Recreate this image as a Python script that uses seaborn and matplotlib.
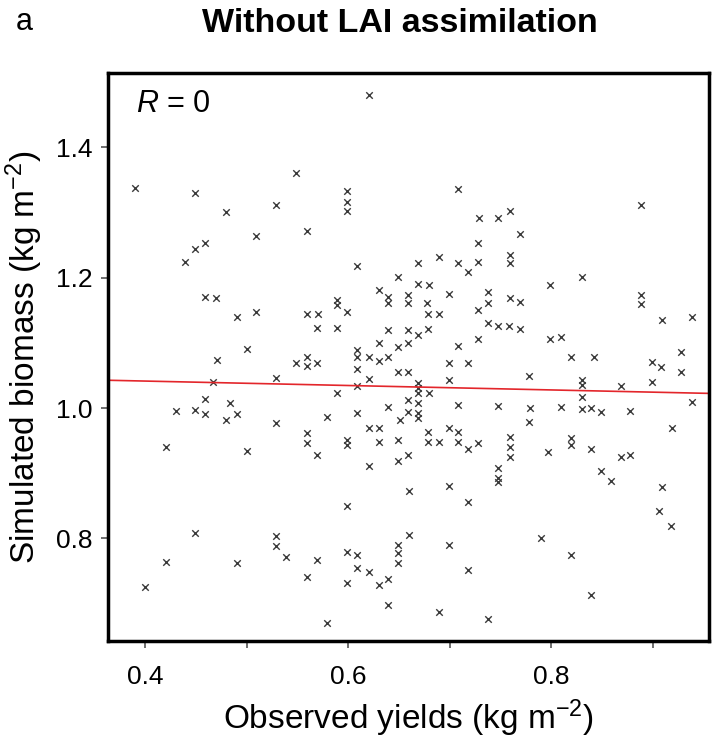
import matplotlib
matplotlib.use("Agg")
import matplotlib.pyplot as plt
import seaborn as sns
import pandas as pd

# observed yield vs simulated biomass (kg m-2)
obs_yield = [
    0.390, 0.449, 0.480, 0.529, 0.549, 0.559, 0.509, 0.459, 0.449, 0.439,
    0.620, 0.599, 0.599, 0.599, 0.708, 0.729, 0.748, 0.728, 0.689,
    0.759, 0.769, 0.759, 0.759, 0.889,
    0.459, 0.470, 0.490, 0.509, 0.559, 0.500, 0.471, 0.549, 0.559, 0.559,
    0.529, 0.467, 0.459, 0.484, 0.430, 0.449, 0.459, 0.480, 0.490, 0.529,
    0.559, 0.559, 0.420, 0.500,
    0.609, 0.669, 0.708, 0.728, 0.718, 0.649, 0.630, 0.669, 0.680, 0.699,
    0.738, 0.738, 0.589, 0.589, 0.599, 0.639, 0.639, 0.659, 0.659, 0.678,
    0.679, 0.689, 0.570, 0.728, 0.738, 0.748, 0.758, 0.569, 0.589, 0.639,
    0.659, 0.669, 0.679, 0.728, 0.659, 0.630, 0.649, 0.708, 0.609, 0.609,
    0.620, 0.630, 0.639, 0.569, 0.609, 0.649, 0.659, 0.699, 0.718, 0.699,
    0.620, 0.609, 0.589, 0.669, 0.669, 0.669, 0.680, 0.669, 0.659, 0.659,
    0.669, 0.669, 0.639, 0.708, 0.748, 0.609, 0.579, 0.651, 0.620, 0.630,
    0.699, 0.708, 0.679, 0.599, 0.599, 0.630, 0.649, 0.679, 0.689, 0.708,
    0.728, 0.718, 0.569, 0.659,
    0.830, 0.799, 0.759, 0.769, 0.889, 0.889, 0.909, 0.939, 0.769, 0.799,
    0.810, 0.820, 0.842, 0.899, 0.908, 0.928, 0.928, 0.778, 0.830, 0.830,
    0.869, 0.899, 0.830, 0.939, 0.779, 0.810, 0.830, 0.839, 0.849, 0.878,
    0.778, 0.919, 0.759, 0.759, 0.759, 0.820, 0.820, 0.839, 0.797, 0.869,
    0.878,
    0.449, 0.420, 0.400, 0.490, 0.529, 0.529, 0.539, 0.559,
    0.620, 0.649, 0.748, 0.748, 0.748, 0.699, 0.660, 0.718, 0.599, 0.660,
    0.649, 0.649, 0.649, 0.699, 0.599, 0.609, 0.609, 0.620, 0.569, 0.599,
    0.630, 0.639, 0.718, 0.639, 0.689, 0.738, 0.579,
    0.849, 0.859, 0.909, 0.906, 0.918, 0.790, 0.820, 0.839,
]
sim_biomass = [
    1.338, 1.330, 1.301, 1.312, 1.361, 1.272, 1.264, 1.253, 1.244, 1.224,
    1.480, 1.333, 1.316, 1.302, 1.336, 1.292, 1.292, 1.253, 1.232,
    1.302, 1.267, 1.235, 1.222, 1.312,
    1.170, 1.169, 1.140, 1.147, 1.144, 1.091, 1.074, 1.069, 1.078, 1.064,
    1.046, 1.040, 1.014, 1.008, 0.995, 0.997, 0.991, 0.982, 0.991, 0.977,
    0.962, 0.946, 0.940, 0.934,
    1.218, 1.223, 1.223, 1.224, 1.209, 1.201, 1.181, 1.190, 1.189, 1.175,
    1.178, 1.161, 1.166, 1.158, 1.147, 1.170, 1.161, 1.173, 1.161, 1.161,
    1.144, 1.144, 1.144, 1.150, 1.130, 1.126, 1.126, 1.123, 1.123, 1.120,
    1.120, 1.112, 1.121, 1.106, 1.100, 1.100, 1.094, 1.095, 1.089, 1.078,
    1.078, 1.072, 1.078, 1.069, 1.060, 1.055, 1.055, 1.069, 1.069, 1.043,
    1.045, 1.034, 1.023, 1.038, 1.031, 1.023, 1.023, 1.008, 1.012, 0.994,
    0.992, 0.985, 1.002, 1.005, 1.003, 0.992, 0.986, 0.982, 0.969, 0.969,
    0.969, 0.963, 0.963, 0.951, 0.943, 0.948, 0.951, 0.948, 0.948, 0.948,
    0.946, 0.937, 0.928, 0.928,
    1.201, 1.189, 1.169, 1.163, 1.173, 1.160, 1.135, 1.140, 1.121, 1.106,
    1.109, 1.078, 1.078, 1.071, 1.063, 1.086, 1.055, 1.049, 1.043, 1.035,
    1.034, 1.040, 1.017, 1.009, 1.000, 1.002, 0.998, 1.000, 0.994, 0.995,
    0.979, 0.969, 0.955, 0.940, 0.925, 0.954, 0.943, 0.937, 0.932, 0.925,
    0.928,
    0.808, 0.764, 0.725, 0.762, 0.804, 0.788, 0.771, 0.741,
    0.911, 0.919, 0.908, 0.893, 0.886, 0.880, 0.873, 0.856, 0.850, 0.805,
    0.790, 0.777, 0.762, 0.790, 0.779, 0.774, 0.754, 0.748, 0.767, 0.731,
    0.728, 0.738, 0.751, 0.698, 0.687, 0.676, 0.670,
    0.903, 0.888, 0.879, 0.842, 0.819, 0.800, 0.774, 0.713,
]

# fitted line as drawn in the reference
fit_intercept = 1.055
fit_slope = -0.034
r_value = "0"

x_ticks = [0.4, 0.5, 0.6, 0.7, 0.8, 0.9]
x_ticklabels = ["0.4", "", "0.6", "", "0.8", ""]
y_ticks = [0.8, 1.0, 1.2, 1.4]
y_ticklabels = ["0.8", "1.0", "1.2", "1.4"]

df = pd.DataFrame({"obs": obs_yield, "sim": sim_biomass})

sns.set_style("ticks")
plt.rcParams["font.family"] = ["Liberation Sans", "DejaVu Sans"]
plt.rcParams["mathtext.fontset"] = "custom"
plt.rcParams["mathtext.rm"] = "Liberation Sans"
plt.rcParams["mathtext.it"] = "Liberation Sans:italic"
plt.rcParams["text.color"] = "black"
plt.rcParams["axes.labelcolor"] = "black"
plt.rcParams["xtick.labelcolor"] = "black"
plt.rcParams["ytick.labelcolor"] = "black"

fig = plt.figure(figsize=(7.12, 7.43), dpi=100)
ax = fig.add_axes([0.152, 0.137, 0.844, 0.765])

sns.scatterplot(data=df, x="obs", y="sim", marker="x", color="#3a3a3a",
                s=22, linewidth=1.0, ax=ax, legend=False)
ax.axline((0, fit_intercept), slope=fit_slope, color="#e3262b", lw=1.2)

ax.set_xlim(0.3635, 0.9557)
ax.set_ylim(0.6424, 1.5142)
ax.set_xticks(x_ticks)
ax.set_xticklabels(x_ticklabels)
ax.set_yticks(y_ticks)
ax.set_yticklabels(y_ticklabels)
ax.tick_params(axis="both", direction="out", length=5, width=1.2,
               labelsize=19, color="#555555", labelcolor="black")
ax.tick_params(axis="x", pad=12)
ax.tick_params(axis="y", pad=6)
for sp in ax.spines.values():
    sp.set_visible(True)
    sp.set_linewidth(2.5)
    sp.set_color("black")

ax.set_xlabel(r"Observed yields (kg m$^{\mathregular{-2}}$)", fontsize=24, labelpad=6)
ax.set_ylabel(r"Simulated biomass (kg m$^{\mathregular{-2}}$)", fontsize=24, labelpad=8)

ax.text(0.047, 0.945, r"$\mathit{R}$ = " + r_value, transform=ax.transAxes,
        fontsize=22, ha="left", va="center")

fig.text(0.562, 0.968, "Without LAI assimilation", fontsize=24.5,
         fontweight="bold", ha="center", va="center")
fig.text(0.022, 0.970, "a", fontsize=22, ha="left", va="center")

fig.savefig("out.png", dpi=100)
